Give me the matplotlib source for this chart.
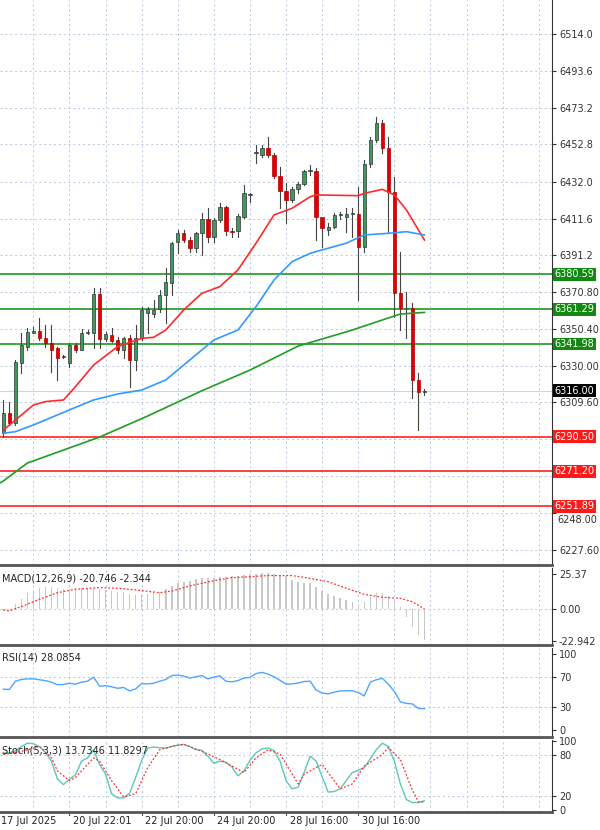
import matplotlib
matplotlib.use("Agg")
import matplotlib.pyplot as plt
import numpy as np

opens = [6292.4,6303.5,6297.9,6331.2,6340.5,6348.3,6349.4,6345.1,6342.3,6339.6,6335.0,6331.2,6341.4,6338.7,6348.3,6348.3,6369.7,6344.6,6347.0,6344.2,6338.7,6345.1,6333.1,6345.1,6359.0,6358.6,6361.2,6369.2,6375.6,6398.8,6403.4,6399.7,6395.1,6403.4,6411.2,6401.2,6410.8,6418.2,6404.7,6404.7,6412.7,6424.7,6447.8,6446.9,6450.9,6446.9,6435.2,6427.1,6421.9,6427.8,6430.8,6438.0,6438.0,6412.7,6405.0,6406.7,6413.6,6412.7,6414.0,6414.0,6396.0,6441.7,6455.2,6464.8,6450.6,6426.5,6370.1,6361.8,6361.8,6322.0,6315.5]
closes = [6303.5,6297.9,6332.2,6341.4,6348.8,6349.4,6345.1,6342.3,6338.7,6334.0,6335.0,6341.4,6338.7,6348.3,6348.3,6369.7,6344.6,6347.5,6343.8,6338.7,6345.1,6333.1,6345.1,6360.9,6361.2,6360.9,6369.2,6376.6,6397.9,6403.4,6399.7,6395.1,6403.4,6411.2,6401.2,6410.8,6418.2,6404.7,6404.0,6413.2,6425.6,6424.7,6448.4,6450.9,6446.9,6435.2,6427.1,6421.9,6427.8,6430.8,6438.0,6438.0,6412.7,6406.2,6406.7,6413.6,6413.6,6414.0,6414.0,6396.0,6441.7,6455.2,6464.8,6450.6,6426.5,6370.1,6361.8,6361.8,6322.0,6315.5,6316.0]
highs = [6310.9,6310.0,6333.1,6347.9,6350.7,6351.6,6356.2,6352.5,6352.5,6340.5,6335.9,6342.3,6342.3,6350.1,6349.7,6372.9,6372.9,6348.4,6350.7,6346.0,6346.0,6347.0,6352.5,6362.7,6362.7,6366.4,6371.9,6384.0,6398.8,6405.3,6405.3,6401.6,6404.3,6414.5,6417.3,6411.7,6420.1,6418.6,6406.2,6414.1,6430.2,6425.6,6452.4,6452.4,6457.1,6447.8,6440.4,6431.2,6429.3,6432.1,6438.5,6441.3,6439.5,6408.0,6409.0,6414.5,6415.4,6417.3,6417.3,6429.3,6444.1,6457.1,6468.2,6466.3,6457.1,6434.8,6393.2,6371.0,6364.5,6325.7,6317.2]
lows = [6290.5,6297.0,6297.0,6325.7,6338.7,6348.0,6344.2,6340.5,6326.6,6322.0,6334.0,6329.4,6337.7,6338.7,6347.3,6339.6,6339.6,6343.8,6343.3,6336.8,6334.0,6318.3,6327.5,6344.2,6347.9,6357.2,6359.9,6353.4,6369.2,6392.3,6398.8,6393.2,6393.2,6391.4,6398.8,6398.8,6409.9,6402.5,6401.6,6401.6,6411.7,6421.0,6442.6,6446.0,6446.0,6433.9,6417.3,6409.0,6421.0,6425.6,6430.2,6435.8,6399.7,6396.0,6402.5,6406.2,6411.2,6404.3,6401.6,6366.4,6393.2,6440.4,6454.3,6447.8,6403.4,6357.2,6349.7,6345.1,6311.8,6294.2,6313.7]

ma_red_idx = [0,5,7,10,12,15,19,23,25,27,30,33,36,39,42,45,48,51,52,59,60,63,65,67,70]
ma_red = [6294.2,6308.1,6310.0,6310.9,6318.3,6330.3,6340.5,6345.1,6345.7,6349.7,6360.9,6370.1,6373.8,6383.1,6397.9,6413.6,6417.3,6423.7,6424.7,6424.3,6425.6,6427.8,6424.7,6416.4,6399.7]
ma_blue_idx = [0,2,5,11,15,19,23,27,31,35,39,42,45,48,51,53,57,60,64,67,70]
ma_blue = [6292.4,6293.3,6297.0,6305.4,6310.9,6314.2,6316.4,6322.0,6333.1,6344.2,6349.7,6362.7,6377.5,6387.7,6392.3,6394.2,6397.9,6402.5,6403.4,6404.3,6402.5]
ma_green_idx = [-1,0,4,16,24,33,41,49,58,63,66,70]
ma_green = [6264.0,6265.9,6275.9,6290.3,6302.0,6316.0,6327.5,6340.8,6349.7,6355.3,6358.6,6359.5]

levels_green = [6380.59,6361.29,6341.98]
levels_red = [6290.50,6271.20,6251.89]
last_price = 6316.00
price_ticks = [6514.0,6493.6,6473.2,6452.8,6432.0,6411.6,6391.2,6370.8,6350.4,6330.0,6309.6,6289.2,6268.8,6248.0,6227.6]
price_tick_labels = ["6514.0","6493.6","6473.2","6452.8","6432.0","6411.6","6391.2","6370.80","6350.40","6330.00","6309.60","","","","6227.60"]
low_label_price = 6248.0
low_label_text = "6248.00"

macd_hist = [-1.5,-0.7,3.4,7.0,11.4,13.8,15.0,15.7,15.7,15.0,14.3,14.3,15.0,15.0,15.0,14.3,14.3,13.8,13.3,12.6,12.1,10.6,10.1,10.6,10.9,11.8,12.6,14.3,16.7,18.6,19.8,20.5,21.5,22.2,22.2,22.2,23.4,23.4,23.9,23.9,24.6,25.4,25.4,25.8,26.3,25.4,24.6,23.9,21.0,19.8,19.1,18.6,16.2,13.3,10.6,9.4,7.7,6.5,5.3,1.7,5.3,8.5,11.8,11.8,9.4,7.0,1.7,-5.6,-12.8,-18.8,-22.5]
macd_sig_idx = [0,1,3,6,9,12,16,19,22,26,28,31,35,38,41,44,48,50,54,57,60,63,66,68,70]
macd_sig = [-0.7,-1.4,1.7,7.0,11.8,14.3,15.5,15.0,13.8,11.8,13.0,16.7,20.5,22.7,23.4,24.2,24.2,22.9,19.8,15.0,10.6,8.5,7.7,5.3,0.0]

rsi = [53.7,53.3,64.2,66.5,67.3,67.3,66.1,65.0,63.0,59.5,59.9,61.5,60.3,63.0,64.2,69.6,57.6,58.3,56.8,54.9,56.0,51.4,54.1,61.1,60.7,61.5,64.2,66.5,71.6,72.3,70.8,68.4,70.0,71.6,67.3,69.6,71.2,64.2,63.4,65.0,68.4,69.2,74.3,75.8,73.5,70.0,65.3,60.3,60.7,61.8,63.8,64.2,52.5,48.6,47.5,49.8,51.4,51.7,51.7,49.4,44.8,63.0,66.1,68.1,60.3,50.6,37.0,35.0,34.3,28.4,28.1]

stoch_k = [82.4,82.4,85.6,91.7,96.4,95.5,91.7,83.3,70.6,44.8,36.9,44.8,50.9,70.6,75.3,86.6,65.9,51.9,23.8,17.7,17.7,24.7,47.2,71.6,89.4,90.8,89.9,89.4,91.7,93.6,94.5,91.3,87.0,86.1,77.7,67.4,70.6,69.2,62.2,49.5,56.6,72.0,82.4,88.4,89.4,85.6,70.6,42.5,30.8,33.1,54.2,77.7,70.6,48.1,26.1,27.0,30.8,42.5,54.2,57.5,61.3,73.9,87.0,96.4,91.7,70.6,37.8,15.3,11.1,11.1,13.7]
stoch_d_idx = [0,3,6,8,9,11,12,15,16,18,20,22,24,26,28,30,33,36,40,42,44,46,49,50,53,56,58,60,63,64,66,68,69,70]
stoch_d = [80.0,84.7,91.7,75.3,56.6,42.5,47.2,75.3,70.6,42.5,19.1,23.8,61.3,87.0,91.7,95.0,84.7,73.0,54.2,75.3,87.0,80.9,37.8,51.9,65.9,30.8,37.8,63.6,80.0,90.3,73.0,28.4,12.0,11.8]

date_idx = [-1,11,23,35,47,59]
date_labels = ["17 Jul 2025","20 Jul 22:01","22 Jul 20:00","24 Jul 20:00","28 Jul 16:00","30 Jul 16:00"]

W, H = 600, 830
fig = plt.figure(figsize=(6, 8.3), dpi=100)
def ax_at(top, bot):
    return fig.add_axes([0, 1-bot/H, 552/W, (bot-top)/H])
axm = ax_at(0, 565)
axd = ax_at(568, 645)
axr = ax_at(648, 737)
axs = ax_at(740, 812)
XL = (-0.55, 91.2)
grid_x = np.arange(-1, 92, 6)
GC = "#b8c8e0"
FS = 7
for ax in (axm, axd, axr, axs):
    ax.set_xlim(*XL)
    ax.set_xticks([])
    for v in grid_x:
        ax.axvline(v, color=GC, lw=0.7, ls=(0, (2, 3)), zorder=0)
    for s in ("left", "top"):
        ax.spines[s].set_visible(False)
    ax.spines["right"].set_color("#333333")
    ax.spines["bottom"].set_color("#555555")
    ax.spines["bottom"].set_linewidth(2)
    ax.yaxis.tick_right()
    ax.tick_params(axis="y", labelsize=FS, colors="#333333", length=3, pad=2)

# main
axm.set_ylim(6219.3, 6532.9)
axm.set_yticks(price_ticks)
axm.set_yticklabels(price_tick_labels)
for v in price_ticks:
    axm.axhline(v, color=GC, lw=0.7, ls=(0, (2, 3)), zorder=0)
axm.text(1.0 + 5/552, low_label_price - 3.5, low_label_text, transform=axm.get_yaxis_transform(),
         fontsize=FS, color="#333333", va="center", ha="left", clip_on=False)
x = np.arange(len(opens))
for i in x:
    o, c, h, l = opens[i], closes[i], highs[i], lows[i]
    axm.plot([i, i], [l, h], color="#444444", lw=0.8, zorder=3)
    col = "#3d9a5c" if c >= o else "#e00000"
    lo, hi = min(o, c), max(o, c)
    axm.add_patch(plt.Rectangle((i-0.28, lo), 0.56, max(hi-lo, 0.4), facecolor=col,
                                edgecolor="#333333" if c >= o else "#b00000", lw=0.5, zorder=4))
axm.plot(ma_red_idx, ma_red, color="#ff2a2a", lw=1.2, zorder=5)
axm.plot(ma_blue_idx, ma_blue, color="#3399ff", lw=1.2, zorder=5)
axm.plot(ma_green_idx, ma_green, color="#1e9e1e", lw=1.2, zorder=5)
axm.axhline(last_price, color="#c8d4e8", lw=0.8, zorder=1)
def box(ax, y, txt, fc):
    ax.text(1.005, y, txt, transform=ax.get_yaxis_transform(), fontsize=FS, color="white",
            va="center", ha="left", bbox=dict(boxstyle="square,pad=0.15", fc=fc, ec="none"),
            clip_on=False, zorder=10)
for v in levels_green:
    axm.axhline(v, color="#1e9a1e", lw=1.2, zorder=2)
    box(axm, v, f"{v:.2f}", "#128a12")
for v in levels_red:
    axm.axhline(v, color="#ff2020", lw=1.2, zorder=2)
    box(axm, v, f"{v:.2f}", "#ff1a1a")
box(axm, last_price, f"{last_price:.2f}", "black")

# MACD
xi = np.arange(len(macd_hist))
axd.set_ylim(-26.1, 29.7)
axd.set_yticks([25.37, 0.0, -22.942])
axd.set_yticklabels(["25.37", "0.00", "-22.942"])
axd.axhline(0, color=GC, lw=0.7, ls=(0, (2, 3)), zorder=0)
axd.bar(xi, macd_hist, width=0.25, color="#c8c8c8", zorder=2)
axd.plot(macd_sig_idx, macd_sig, color="#ff3030", lw=0.9, ls=(0, (1.5, 1.5)), zorder=3)
axd.text(0.003, 0.93, "MACD(12,26,9) -20.746 -2.344", transform=axd.transAxes, fontsize=FS, va="top", color="#222222")

# RSI
axr.set_ylim(-9.2, 107.9)
axr.set_yticks([100, 70, 30, 0])
for v in (70, 30):
    axr.axhline(v, color=GC, lw=0.7, ls=(0, (2, 3)), zorder=0)
axr.plot(np.arange(len(rsi)), rsi, color="#4da6ff", lw=1.0)
axr.text(0.003, 0.95, "RSI(14) 28.0854", transform=axr.transAxes, fontsize=FS, va="top", color="#222222")

# Stoch
axs.set_ylim(-2.5, 101)
axs.set_yticks([100, 80, 20, 0])
for v in (80, 20):
    axs.axhline(v, color=GC, lw=0.7, ls=(0, (2, 3)), zorder=0)
axs.plot(np.arange(len(stoch_k)), stoch_k, color="#5cc8b8", lw=1.0, zorder=3)
axs.plot(stoch_d_idx, stoch_d, color="#ff3030", lw=0.9, ls=(0, (1.5, 1.5)), zorder=4)
axs.text(0.003, 0.93, "Stoch(5,3,3) 13.7346 11.8297", transform=axs.transAxes, fontsize=FS, va="top", color="#222222")
for i, t in zip(date_idx, date_labels):
    axs.text(i + 0.6, -0.06, t, transform=axs.get_xaxis_transform(), fontsize=FS, va="top", ha="left", color="#222222", clip_on=False)
    axs.plot([i, i], [0, -0.04], transform=axs.get_xaxis_transform(), color="#555555", lw=0.8, clip_on=False)

fig.savefig("out.png", dpi=100)
